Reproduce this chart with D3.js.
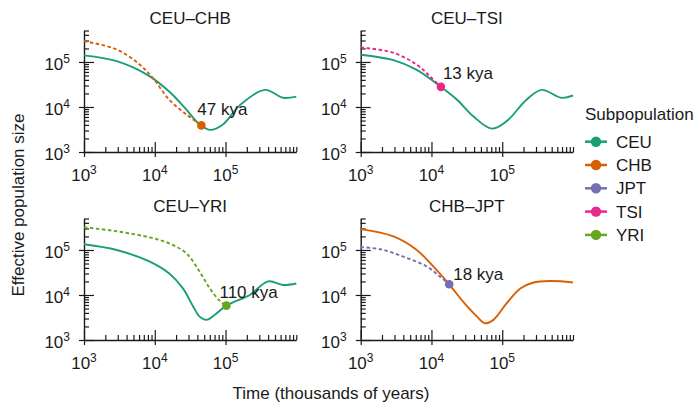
<!DOCTYPE html>
<html>
<head>
<meta charset="utf-8">
<script src="https://cdn.jsdelivr.net/npm/d3@7"></script>
<style>
  body { margin: 0; background: #fff; }
  text { font-family: "Liberation Sans", Arial, Helvetica, sans-serif; fill: #1a1a1a; }
</style>
</head>
<body>
<div id="chart"></div>
<script>
const WIDTH = 696, HEIGHT = 407;

// legend categories + colours
const subpops = ["CEU", "CHB", "JPT", "TSI", "YRI"];
const popColors = ["#1b9e77", "#d95f02", "#7570b3", "#e7298a", "#66a61e"];

const panelTitles = ["CEU\u2013CHB", "CEU\u2013TSI", "CEU\u2013YRI", "CHB\u2013JPT"];
const splitLabels = ["47 kya", "13 kya", "110 kya", "18 kya"];
const splitTimes = [45500, 13600, 103000, 17800];
const splitSizes = [3900, 28000, 5800, 17300];

const xTickExps = [3, 4, 5];
const yTickExps = [3, 4, 5];

// curves: [time (years), effective population size]
const ceuChbCEU = [[1e3, 1.4e5], [2.9e3, 1.04e5], [8.5e3, 4.8e4], [1.6e4, 2.2e4], [2.8e4, 8.7e3],
  [4.1e4, 4.4e3], [6.0e4, 3.1e3], [9.2e4, 4.1e3], [1.6e5, 1.1e4], [3.6e5, 2.4e4],
  [6.5e5, 1.6e4], [1e6, 1.7e4]];
const ceuChbCHB = [[1e3, 2.9e5], [2.9e3, 1.9e5], [6.1e3, 8.8e4], [9.4e3, 4.4e4], [1.6e4, 1.45e4],
  [2.8e4, 6.8e3], [4.55e4, 3.9e3]];

const ceuTsiCEU = [[1e3, 1.45e5], [2.9e3, 1.1e5], [6.2e3, 6.7e4], [1.36e4, 2.8e4], [2.3e4, 1.45e4],
  [3.9e4, 6.2e3], [7.1e4, 3.3e3], [1.15e5, 4.8e3], [2.2e5, 1.45e4], [3.6e5, 2.4e4],
  [6.9e5, 1.6e4], [1e6, 1.8e4]];
const ceuTsiTSI = [[1e3, 2.1e5], [2.9e3, 1.6e5], [6.2e3, 8.7e4], [9.5e3, 4.8e4], [1.36e4, 2.8e4]];

const ceuYriCEU = [[1e3, 1.34e5], [2.9e3, 1.0e5], [8.5e3, 5.5e4], [1.6e4, 3.0e4], [2.5e4, 1.4e4],
  [3.5e4, 5.5e3], [4.3e4, 3.3e3], [5.4e4, 2.8e3], [7.0e4, 3.6e3], [1.03e5, 5.8e3],
  [2.2e5, 1.0e4], [4.0e5, 2.0e4], [6.5e5, 1.67e4], [1e6, 1.8e4]];
const ceuYriYRI = [[1e3, 3.2e5], [2.9e3, 2.6e5], [8.5e3, 1.9e5], [1.6e4, 1.4e5], [2.8e4, 8.4e4],
  [4.3e4, 3.3e4], [6.0e4, 1.4e4], [8.3e4, 7.4e3], [1.03e5, 5.8e3]];

const chbJptCHB = [[1e3, 2.9e5], [2.9e3, 2.0e5], [6.2e3, 1.0e5], [1.06e4, 4.3e4], [1.78e4, 1.73e4],
  [2.8e4, 7.1e3], [4.4e4, 3.3e3], [5.7e4, 2.35e3], [7.5e4, 2.8e3], [1.15e5, 6.5e3],
  [1.8e5, 1.4e4], [2.7e5, 1.87e4], [4.7e5, 2.04e4], [1e6, 1.9e4]];
const chbJptJPT = [[1e3, 1.15e5], [1.9e3, 1.04e5], [4.0e3, 7.1e4], [8.6e3, 4.3e4], [1.3e4, 2.6e4],
  [1.78e4, 1.73e4]];

const color = d3.scaleOrdinal().domain(subpops).range(popColors);

const panels = [
  { solid: ceuChbCEU, solidPop: "CEU", dashed: ceuChbCHB, dashedPop: "CHB", left: 84, bottom: 152, dx: -4, dy: -10 },
  { solid: ceuTsiCEU, solidPop: "CEU", dashed: ceuTsiTSI, dashedPop: "TSI", left: 360.7, bottom: 152, dx: 2, dy: -8 },
  { solid: ceuYriCEU, solidPop: "CEU", dashed: ceuYriYRI, dashedPop: "YRI", left: 84, bottom: 340, dx: -7, dy: -8 },
  { solid: chbJptCHB, solidPop: "CHB", dashed: chbJptJPT, dashedPop: "JPT", left: 360.7, bottom: 340, dx: 4, dy: -4 },
];

const PLOT_W = 212.3, PLOT_H = 121.5;
const AXIS_COLOR = "#1a1a1a";

const svg = d3.select("#chart").append("svg")
  .attr("width", WIDTH).attr("height", HEIGHT);

// log tick positions
let xTicks = [];
[1e3, 1e4, 1e5].forEach(d => { for (let k = 1; k < 10; k++) xTicks.push(d * k); });
xTicks.push(1e6);
let yTicks = [];
[1e3, 1e4, 1e5].forEach(d => { for (let k = 1; k < 10; k++) if (d * k <= 5e5) yTicks.push(d * k); });
const isMajor = v => Math.abs(Math.log10(v) - Math.round(Math.log10(v))) < 1e-9 && v < 1e6;

panels.forEach((p, i) => {
  const x = d3.scaleLog().domain([1e3, 1e6]).range([p.left, p.left + PLOT_W]);
  const y = d3.scaleLog().domain([1e3, 5e5]).range([p.bottom, p.bottom - PLOT_H]);
  const g = svg.append("g");

  // title
  g.append("text")
    .attr("x", p.left + PLOT_W / 2).attr("y", p.bottom - 128)
    .attr("text-anchor", "middle").style("font-size", "17px")
    .text(panelTitles[i]);

  // x axis
  const gx = g.append("g")
    .attr("transform", `translate(0,${p.bottom})`)
    .call(d3.axisBottom(x).tickValues(xTicks).tickSize(0).tickSizeOuter(0).tickFormat(""));
  gx.select(".domain").attr("stroke", AXIS_COLOR).attr("stroke-width", 1.4);
  gx.selectAll(".tick line")
    .attr("stroke", AXIS_COLOR).attr("stroke-width", 1.2)
    .attr("y1", d => isMajor(d) ? 5 : 0)
    .attr("y2", d => isMajor(d) ? -10 : -5);

  // y axis
  const gy = g.append("g")
    .attr("transform", `translate(${p.left},0)`)
    .call(d3.axisLeft(y).tickValues(yTicks).tickSize(0).tickSizeOuter(0).tickFormat(""));
  gy.select(".domain").attr("stroke", AXIS_COLOR).attr("stroke-width", 1.4);
  gy.selectAll(".tick line")
    .attr("stroke", AXIS_COLOR).attr("stroke-width", 1.2)
    .attr("x1", d => isMajor(d) ? -5 : 0)
    .attr("x2", d => isMajor(d) ? 10 : 5);

  // tick labels 10^n
  xTickExps.forEach(e => {
    const t = g.append("text")
      .attr("x", x(Math.pow(10, e))).attr("y", p.bottom + 29)
      .attr("text-anchor", "middle").style("font-size", "17px");
    t.append("tspan").text("10");
    t.append("tspan").attr("dy", -7).style("font-size", "12px").text(e);
  });
  yTickExps.forEach(e => {
    const t = g.append("text")
      .attr("x", p.left - 14).attr("y", y(Math.pow(10, e)) + 8)
      .attr("text-anchor", "end").style("font-size", "17px");
    t.append("tspan").text("10");
    t.append("tspan").attr("dy", -7).style("font-size", "12px").text(e);
  });

  const line = d3.line()
    .x(d => x(d[0])).y(d => y(d[1]))
    .curve(d3.curveCatmullRom.alpha(0.5));

  g.append("path")
    .datum(p.solid)
    .attr("fill", "none")
    .attr("stroke", color(p.solidPop))
    .attr("stroke-width", 1.9)
    .attr("d", line);

  g.append("path")
    .datum(p.dashed)
    .attr("fill", "none")
    .attr("stroke", color(p.dashedPop))
    .attr("stroke-width", 1.9)
    .attr("stroke-dasharray", "3.5,2.5")
    .attr("d", line);

  g.append("circle")
    .attr("cx", x(splitTimes[i])).attr("cy", y(splitSizes[i]))
    .attr("r", 4.3)
    .attr("fill", color(p.dashedPop));

  g.append("text")
    .attr("x", x(splitTimes[i]) + p.dx).attr("y", y(splitSizes[i]) + p.dy)
    .style("font-size", "17px")
    .text(splitLabels[i]);
});

// axis titles
svg.append("text")
  .attr("transform", "translate(24,205) rotate(-90)")
  .attr("text-anchor", "middle").style("font-size", "17px")
  .text("Effective population size");

svg.append("text")
  .attr("x", 331).attr("y", 399)
  .attr("text-anchor", "middle").style("font-size", "17px")
  .text("Time (thousands of years)");

// legend
const legend = svg.append("g");
legend.append("text")
  .attr("x", 585).attr("y", 120)
  .style("font-size", "17px")
  .text("Subpopulation");

const items = legend.selectAll(".item")
  .data(subpops)
  .enter().append("g")
  .attr("class", "item")
  .attr("transform", (d, i) => `translate(0,${141.7 + i * 23.3})`);

items.append("line")
  .attr("x1", 585).attr("x2", 607)
  .attr("stroke", d => color(d)).attr("stroke-width", 2.5);
items.append("circle")
  .attr("cx", 596).attr("r", 5.2)
  .attr("fill", d => color(d));
items.append("text")
  .attr("x", 616).attr("y", 6)
  .style("font-size", "17px")
  .text(d => d);
</script>
</body>
</html>
